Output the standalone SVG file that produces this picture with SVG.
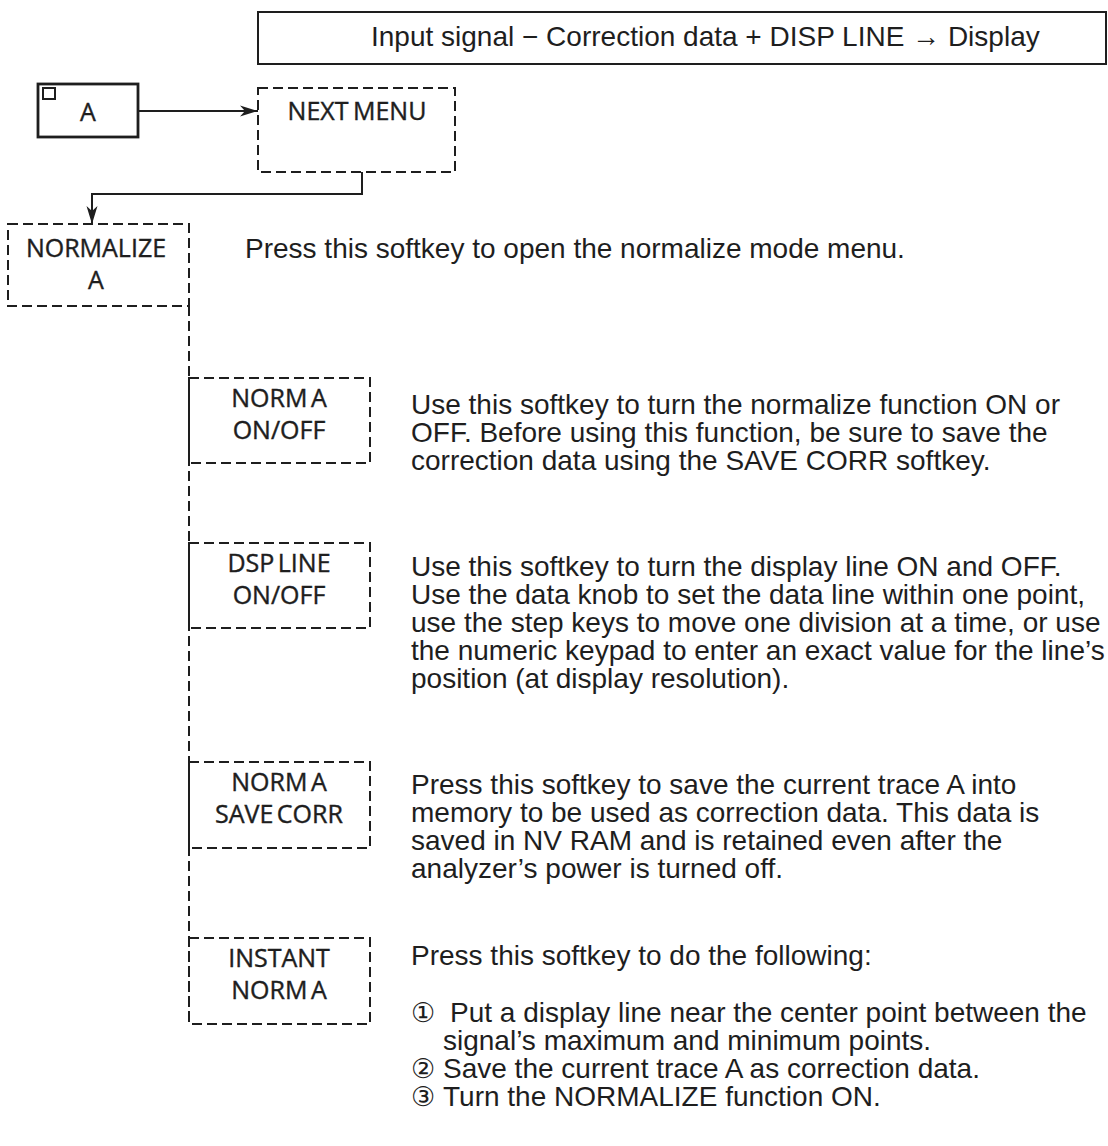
<svg xmlns="http://www.w3.org/2000/svg" width="1108" height="1146" viewBox="0 0 1108 1146">
<defs>
<style>
.solid{fill:none;stroke:#1e1e1e;stroke-width:2}
.key{fill:none;stroke:#1e1e1e;stroke-width:2.8}
.dash{fill:none;stroke:#1e1e1e;stroke-width:2;stroke-dasharray:10 5}
.conn{fill:none;stroke:#1e1e1e;stroke-width:2}
.lbl{font-family:"Open Sans","DejaVu Sans",sans-serif;font-size:25px;fill:#1e1e1e;stroke:#1e1e1e;stroke-width:0.4;text-anchor:middle;word-spacing:-3px}
.desc{font-family:"Liberation Sans",Arial,sans-serif;font-size:28px;fill:#1e1e1e}
.num{font-family:"DejaVu Sans","Noto Sans CJK JP",sans-serif;font-size:27px;fill:#1e1e1e}
</style>
<marker id="arr" markerUnits="userSpaceOnUse" markerWidth="19" markerHeight="12" refX="18" refY="6" orient="auto">
<path d="M0,0.5 L18,6 L0,11.5 L5,6 z" fill="#1e1e1e"/>
</marker>
</defs>
<rect width="1108" height="1146" fill="#ffffff"/>

<g id="formula">
<rect class="solid" x="258" y="12" width="848" height="52"/>
<text class="desc" x="371" y="46" font-size="26">Input signal  −  Correction data  +  DISP LINE → Display</text>
</g>

<g id="key-a">
<rect class="key" x="38" y="84" width="100" height="53"/>
<rect class="solid" x="43" y="88" width="12" height="11"/>
<text class="lbl" x="88" y="121">A</text>
</g>

<g id="next-menu">
<rect class="dash" x="258" y="88" width="197" height="84"/>
<text class="lbl" x="357" y="120" font-size="27" style="word-spacing:-2px">NEXT MENU</text>
</g>

<g id="normalize-a">
<rect class="dash" x="8" y="224" width="181" height="82"/>
<text class="lbl" x="96" y="257" font-size="27">NORMALIZE</text>
<text class="lbl" x="96" y="289">A</text>
<text class="desc" x="245" y="258" font-size="26">Press this softkey to open the normalize mode menu.</text>
</g>

<g id="norm-a-onoff">
<rect class="dash" x="189" y="378" width="181" height="85"/>
<text class="lbl" x="279" y="407">NORM A</text>
<text class="lbl" x="279" y="439">ON/OFF</text>
<text class="desc" x="411" y="414">Use this softkey to turn the normalize function ON or</text>
<text class="desc" x="411" y="442">OFF. Before using this function, be sure to save the</text>
<text class="desc" x="411" y="470">correction data using the SAVE CORR softkey.</text>
</g>

<g id="dsp-line-onoff">
<rect class="dash" x="189" y="543" width="181" height="85"/>
<text class="lbl" x="279" y="572">DSP LINE</text>
<text class="lbl" x="279" y="604">ON/OFF</text>
<text class="desc" x="411" y="576">Use this softkey to turn the display line ON and OFF.</text>
<text class="desc" x="411" y="604">Use the data knob to set the data line within one point,</text>
<text class="desc" x="411" y="632">use the step keys to move one division at a time, or use</text>
<text class="desc" x="411" y="660">the numeric keypad to enter an exact value for the line’s</text>
<text class="desc" x="411" y="688">position (at display resolution).</text>
</g>

<g id="norm-a-save-corr">
<rect class="dash" x="189" y="762" width="181" height="86"/>
<text class="lbl" x="279" y="791">NORM A</text>
<text class="lbl" x="279" y="823">SAVE CORR</text>
<text class="desc" x="411" y="794">Press this softkey to save the current trace A into</text>
<text class="desc" x="411" y="822">memory to be used as correction data. This data is</text>
<text class="desc" x="411" y="850">saved in NV RAM and is retained even after the</text>
<text class="desc" x="411" y="878">analyzer’s power is turned off.</text>
</g>

<g id="instant-norm-a">
<rect class="dash" x="189" y="938" width="181" height="86"/>
<text class="lbl" x="279" y="967">INSTANT</text>
<text class="lbl" x="279" y="999">NORM A</text>
<text class="desc" x="411" y="965">Press this softkey to do the following:</text>
<text class="num" x="411" y="1022">①</text>
<text class="desc" x="450" y="1022">Put a display line near the center point between the</text>
<text class="desc" x="443" y="1050">signal’s maximum and minimum points.</text>
<text class="num" x="411" y="1078">②</text>
<text class="desc" x="443" y="1078">Save the current trace A as correction data.</text>
<text class="num" x="411" y="1106">③</text>
<text class="desc" x="443" y="1106">Turn the NORMALIZE function ON.</text>
</g>

<g id="connectors">
<line class="conn" x1="138" y1="111" x2="258" y2="111" marker-end="url(#arr)"/>
<path class="conn" d="M362,172 V194 H92 V224" marker-end="url(#arr)"/>
<line class="dash" x1="189" y1="306" x2="189" y2="1024"/>
</g>
</svg>
